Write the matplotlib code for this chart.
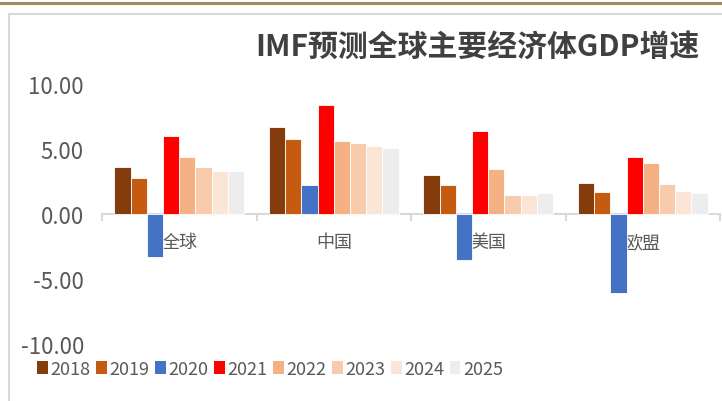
import numpy as np
import matplotlib.pyplot as plt
from matplotlib.lines import Line2D
from matplotlib.patches import Patch

# === DATA ===
regions = ["全球", "中国", "美国", "欧盟"]
years = ["2018", "2019", "2020", "2021", "2022", "2023", "2024", "2025"]
v2018 = [3.6, 6.7, 3.0, 2.4]
v2019 = [2.8, 5.8, 2.2, 1.7]
v2020 = [-3.3, 2.2, -3.5, -6.1]
v2021 = [6.0, 8.4, 6.4, 4.4]
v2022 = [4.4, 5.6, 3.5, 3.9]
v2023 = [3.6, 5.5, 1.5, 2.3]
v2024 = [3.3, 5.2, 1.5, 1.8]
v2025 = [3.3, 5.1, 1.6, 1.6]
series = [v2018, v2019, v2020, v2021, v2022, v2023, v2024, v2025]
colors = ["#843C0C", "#C55A11", "#4472C4", "#FF0000",
          "#F4B183", "#F8CBAD", "#FBE5D6", "#EDEDED"]

plt.rcParams['font.family'] = ['Noto Sans CJK SC', 'DejaVu Sans']

fig = plt.figure(figsize=(7.22, 4.02), dpi=100)

# === FRAME ===
fig.add_artist(Line2D([0, 1], [1 - 3.5/402, 1 - 3.5/402], color="#A38A5E", lw=2.2))
fig.add_artist(Line2D([9/722, 1], [1 - 15/402, 1 - 15/402], color="#D9D9D9", lw=1.5))
fig.add_artist(Line2D([9/722, 9/722], [0, 1 - 15/402], color="#D9D9D9", lw=1.5))

ax = fig.add_axes([102/722, 1 - 345/402, 618/722, 260/402])

x = np.arange(len(regions))
w = 0.105
for i, (vals, c) in enumerate(zip(series, colors)):
    ax.bar(x + (i - 3.5) * w, vals, width=w, color=c, edgecolor="white",
           linewidth=0.6, label=years[i], zorder=3)

ax.set_ylim(-10, 10)
ax.set_xlim(-0.5, 3.5)
ax.set_yticks([-10, -5, 0, 5, 10])
ax.set_yticklabels(["-10.00", "-5.00", "0.00", "5.00", "10.00"])
ax.tick_params(axis="y", length=0, labelsize=16, labelcolor="#595959", pad=13)

for s in ["left", "right", "top"]:
    ax.spines[s].set_visible(False)
ax.spines["bottom"].set_position(("data", 0))
ax.spines["bottom"].set_color("#D9D9D9")
ax.spines["bottom"].set_linewidth(1.5)
ax.spines["bottom"].set_zorder(2)

ax.set_xticks([-0.5, 0.5, 1.5, 2.5, 3.5])
ax.set_xticklabels([])
ax.tick_params(axis="x", which="major", length=5, color="#D9D9D9", width=1.5)
ax.set_xticks(x, minor=True)
ax.set_xticklabels(regions, minor=True)
ax.tick_params(axis="x", which="minor", length=0, labelsize=13,
               labelcolor="#595959", pad=14)

fig.text(700/722, 1 - 47/402, "IMF预测全球主要经济体GDP增速",
         ha="right", va="center", fontsize=21.5, fontweight="bold",
         color="#404040")

handles = [Patch(facecolor=c, edgecolor="none") for c in colors]
fig.legend(handles, years, loc="center", bbox_to_anchor=(270/722, 1 - 370/402),
           ncol=8, frameon=False, fontsize=13, handlelength=0.6, handleheight=0.75,
           handletextpad=0.15, columnspacing=0.3, labelcolor="#595959")

fig.savefig("out.png", dpi=100)
